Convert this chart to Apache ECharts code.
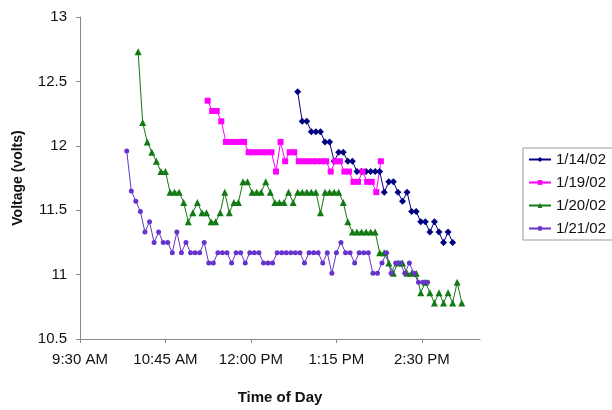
<!DOCTYPE html>
<html>
<head>
<meta charset="utf-8">
<script src="https://cdn.jsdelivr.net/npm/echarts@6/dist/echarts.min.js"></script>
<style>
  html, body { margin: 0; padding: 0; background: #fff; }
  #chart { width: 612px; height: 410px; }
</style>
</head>
<body>
<div id="chart"></div>
<script>
// logger took a reading every 4 minutes; times are minutes after midnight
const sampleMinutes = 4
const seriesNames = ['1/14/02', '1/19/02', '1/20/02', '1/21/02']
const startTimes = [761, 682, 621, 611]

const volts0114 = [
  12.42, 12.19, 12.19, 12.11, 12.11, 12.11, 12.03, 12.03, 11.88, 11.95,
  11.95, 11.88, 11.88, 11.80, 11.80, 11.80, 11.80, 11.80, 11.80, 11.64,
  11.72, 11.72, 11.64, 11.57, 11.64, 11.49, 11.49, 11.41, 11.41, 11.33,
  11.41, 11.33, 11.25, 11.33, 11.25,
]
const volts0119 = [
  12.35, 12.27, 12.27, 12.19, 12.03, 12.03, 12.03, 12.03, 12.03, 11.95,
  11.95, 11.95, 11.95, 11.95, 11.95, 11.80, 12.03, 11.88, 11.95, 11.95,
  11.88, 11.88, 11.88, 11.88, 11.88, 11.88, 11.88, 11.80, 11.88, 11.88,
  11.80, 11.80, 11.72, 11.72, 11.80, 11.72, 11.72, 11.64, 11.88,
]
const volts0120 = [
  12.73, 12.18, 12.03, 11.95, 11.88, 11.80, 11.80, 11.64, 11.64, 11.64,
  11.56, 11.41, 11.48, 11.56, 11.48, 11.48, 11.41, 11.41, 11.48, 11.64,
  11.48, 11.56, 11.56, 11.72, 11.72, 11.64, 11.64, 11.64, 11.72, 11.64,
  11.56, 11.56, 11.56, 11.64, 11.56, 11.64, 11.64, 11.64, 11.64, 11.64,
  11.48, 11.64, 11.64, 11.64, 11.64, 11.56, 11.41, 11.33, 11.33, 11.33,
  11.33, 11.33, 11.33, 11.17, 11.17, 11.09, 11.01, 11.09, 11.09, 11.01,
  11.01, 11.01, 10.86, 10.94, 10.86, 10.78, 10.86, 10.78, 10.86, 10.78,
  10.94, 10.78,
]
const volts0121 = [
  11.96, 11.65, 11.57, 11.49, 11.33, 11.41, 11.25, 11.33, 11.25, 11.25,
  11.17, 11.33, 11.17, 11.25, 11.17, 11.17, 11.17, 11.25, 11.09, 11.09,
  11.17, 11.17, 11.17, 11.09, 11.17, 11.17, 11.09, 11.17, 11.17, 11.17,
  11.09, 11.09, 11.09, 11.17, 11.17, 11.17, 11.17, 11.17, 11.17, 11.09,
  11.17, 11.17, 11.17, 11.09, 11.17, 11.01, 11.17, 11.25, 11.17, 11.17,
  11.09, 11.17, 11.17, 11.17, 11.01, 11.01, 11.09, 11.17, 11.01, 11.09,
  11.09, 11.01, 11.09, 11.01, 10.94, 10.94, 10.94,
]

const xTicks = [570, 645, 720, 795, 870]
const yTicks = [10.5, 11, 11.5, 12, 12.5, 13]

const allVolts = [volts0114, volts0119, volts0120, volts0121]
const colors = ['#000080', '#ff00ff', '#127a12', '#6633cc']
const symbols = ['diamond', 'rect', 'triangle', 'circle']
const symbolSizes = [7, 6, 7, 5]

function timeLabel(m) {
  const h = Math.floor(m / 60)
  const mm = Math.round(m % 60)
  let h12 = h % 12
  if (h12 === 0) h12 = 12
  return h12 + ':' + String(mm).padStart(2, '0') + (h >= 12 ? ' PM' : ' AM')
}

const font = 'Arial, "Liberation Sans", sans-serif'
const chart = echarts.init(document.getElementById('chart'))

chart.setOption({
  animation: false,
  backgroundColor: '#fff',
  grid: { left: 80, right: 132, top: 17, bottom: 68 },
  legend: {
    data: seriesNames,
    orient: 'vertical',
    left: 523,
    top: 148,
    itemWidth: 22,
    itemHeight: 6,
    itemGap: 8,
    padding: [4, 8, 4, 5],
    borderColor: '#999',
    borderWidth: 1,
    textStyle: { fontFamily: font, fontSize: 15, color: '#111' },
  },
  xAxis: {
    type: 'value',
    min: 570,
    max: 921,
    interval: 75,
    name: 'Time of Day',
    nameLocation: 'middle',
    nameGap: 51,
    nameTextStyle: { fontFamily: font, fontSize: 15, fontWeight: 'bold', color: '#111' },
    axisLine: { lineStyle: { color: '#888' } },
    axisTick: { length: 4, lineStyle: { color: '#888' }, customValues: xTicks },
    axisLabel: {
      customValues: xTicks,
      formatter: (v) => timeLabel(v),
      margin: 13,
      fontFamily: font,
      fontSize: 15,
      color: '#111',
    },
    splitLine: { show: false },
  },
  yAxis: {
    type: 'value',
    min: 10.5,
    max: 13,
    interval: 0.5,
    name: 'Voltage (volts)',
    nameLocation: 'middle',
    nameRotate: 90,
    nameGap: 55,
    nameTextStyle: { fontFamily: font, fontSize: 14, fontWeight: 'bold', color: '#111' },
    axisLine: { show: true, lineStyle: { color: '#888' } },
    axisTick: { show: true, length: 4, lineStyle: { color: '#888' } },
    axisLabel: {
      customValues: yTicks,
      margin: 13,
      fontFamily: font,
      fontSize: 15,
      color: '#111',
    },
    splitLine: { show: false },
  },
  series: allVolts.map((volts, i) => ({
    name: seriesNames[i],
    type: 'line',
    data: volts.map((v, k) => [startTimes[i] + k * sampleMinutes, v]),
    symbol: symbols[i],
    symbolSize: symbolSizes[i],
    showAllSymbol: true,
    color: colors[i],
    itemStyle: { color: colors[i] },
    lineStyle: { color: colors[i], width: 1 },
  })),
})
</script>
</body>
</html>
